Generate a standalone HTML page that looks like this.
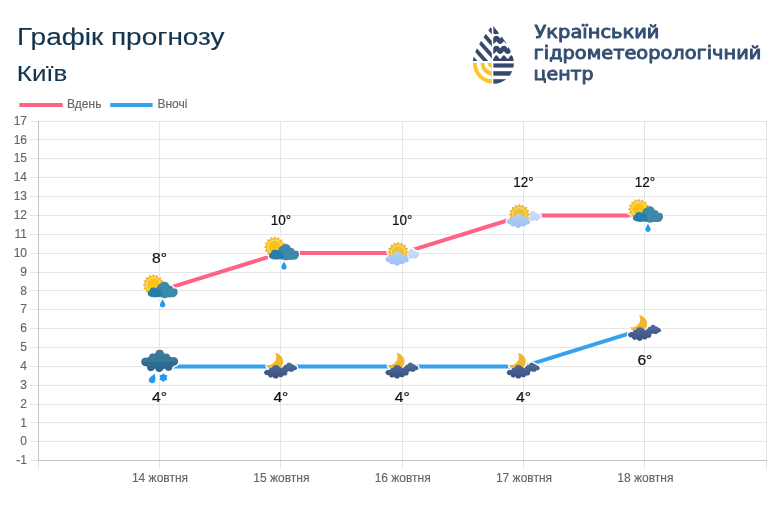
<!DOCTYPE html>
<html lang="uk"><head><meta charset="utf-8"><title>Графік прогнозу</title>
<style>
html,body{margin:0;padding:0;background:#fff;}
body{width:778px;height:519px;overflow:hidden;position:relative;font-family:"Liberation Sans",sans-serif;}
svg{position:absolute;left:0;top:0;display:block}
.tick{font:12px "Liberation Sans",sans-serif;fill:#666;stroke:#666;stroke-width:.15px}
.dl{font:14px "Liberation Sans",sans-serif;fill:#111;stroke:#111;stroke-width:.2px}
.h1{font:23.7px "Liberation Sans",sans-serif;fill:#12344f;stroke:#12344f;stroke-width:.15px}
.h2{font:21.8px "Liberation Sans",sans-serif;fill:#12344f;stroke:#12344f;stroke-width:.12px}
.lg{font:17.2px "DejaVu Sans","Liberation Sans",sans-serif;fill:#344e72;stroke:#344e72;stroke-width:.9px;stroke-linejoin:round}
</style></head><body>
<svg width="778" height="519" viewBox="0 0 778 519">
<defs>
<filter id="halo" x="-20%" y="-20%" width="140%" height="140%">
  <feMorphology in="SourceAlpha" operator="dilate" radius="1.3" result="d"/>
  <feFlood flood-color="#fff" result="w"/>
  <feComposite in="w" in2="d" operator="in" result="h"/>
  <feMerge><feMergeNode in="h"/><feMergeNode in="SourceGraphic"/></feMerge>
</filter>
<linearGradient id="gn1" gradientUnits="userSpaceOnUse" x1="0" y1="-2" x2="0" y2="12"><stop offset="0" stop-color="#506b9b"/><stop offset="0.5" stop-color="#435d8e"/><stop offset="1" stop-color="#38507f"/></linearGradient>
<linearGradient id="gn2" gradientUnits="userSpaceOnUse" x1="0" y1="-4" x2="0" y2="6"><stop offset="0" stop-color="#526d9c"/><stop offset="1" stop-color="#3f5888"/></linearGradient>
<linearGradient id="gd1" gradientUnits="userSpaceOnUse" x1="0" y1="-2" x2="0" y2="12"><stop offset="0" stop-color="#b3d0f9"/><stop offset="1" stop-color="#9dc1f5"/></linearGradient>
<linearGradient id="gd2" gradientUnits="userSpaceOnUse" x1="0" y1="-4" x2="0" y2="6"><stop offset="0" stop-color="#cbdffb"/><stop offset="1" stop-color="#b9d3f8"/></linearGradient>
<linearGradient id="grs" gradientUnits="userSpaceOnUse" x1="0" y1="-17" x2="0" y2="6"><stop offset="0" stop-color="#3a7c9d"/><stop offset="0.5" stop-color="#37789a"/><stop offset="0.56" stop-color="#2d6d91"/><stop offset="1" stop-color="#2a698d"/></linearGradient>
<clipPath id="dropclip"><path d="M492.5 25 C498 32 513.9 50 513.9 63.1 A20.5 20.6 0 0 1 472.9 63.1 C472.9 50 487 32 492.5 25 Z"/></clipPath>
<clipPath id="lt"><rect x="470" y="20" width="21.8" height="40.9"/></clipPath>
<clipPath id="lb"><rect x="470" y="63.1" width="21.8" height="25"/></clipPath>
<clipPath id="rt"><rect x="493.2" y="20" width="25" height="70"/></clipPath>

<g id="sun">
  <polygon fill="#f6b52e" points="0.00,-11.10 1.72,-8.63 4.25,-10.26 4.89,-7.32 7.85,-7.85 7.32,-4.89 10.26,-4.25 8.63,-1.72 11.10,0.00 8.63,1.72 10.26,4.25 7.32,4.89 7.85,7.85 4.89,7.32 4.25,10.26 1.72,8.63 0.00,11.10 -1.72,8.63 -4.25,10.26 -4.89,7.32 -7.85,7.85 -7.32,4.89 -10.26,4.25 -8.63,1.72 -11.10,0.00 -8.63,-1.72 -10.26,-4.25 -7.32,-4.89 -7.85,-7.85 -4.89,-7.32 -4.25,-10.26 -1.72,-8.63"/>
  <circle r="8.5" fill="#fcc318"/>
  <circle r="7" fill="none" stroke="#ffefb5" stroke-width="0.7"/>
</g>
<g id="sun2">
  <polygon fill="#f0b93a" points="0.00,-11.10 1.72,-8.63 4.25,-10.26 4.89,-7.32 7.85,-7.85 7.32,-4.89 10.26,-4.25 8.63,-1.72 11.10,0.00 8.63,1.72 10.26,4.25 7.32,4.89 7.85,7.85 4.89,7.32 4.25,10.26 1.72,8.63 0.00,11.10 -1.72,8.63 -4.25,10.26 -4.89,7.32 -7.85,7.85 -7.32,4.89 -10.26,4.25 -8.63,1.72 -11.10,0.00 -8.63,-1.72 -10.26,-4.25 -7.32,-4.89 -7.85,-7.85 -4.89,-7.32 -4.25,-10.26 -1.72,-8.63"/>
  <circle r="8.3" fill="#efc031"/>
  <circle r="6.9" fill="none" stroke="#fbe9a8" stroke-width="0.7"/>
</g>
<path id="rdrop" d="M0 -4.4 C1 -2.2 2.9 -0.2 2.9 1.6 A2.9 2.9 0 0 1 -2.9 1.6 C-2.9 -0.2 -1 -2.2 0 -4.4 Z"/>
<g id="cl-main">
  <circle cx="-5.3" cy="2.4" r="4"/><circle cx="-9.6" cy="4" r="2.8"/><circle cx="-1.6" cy="3.5" r="2.9"/>
  <ellipse cx="-5.7" cy="6" rx="11.6" ry="3.6"/>
  <circle cx="-10.5" cy="8.5" r="2.6"/><circle cx="-5.5" cy="9.3" r="3"/><circle cx="-0.5" cy="8.3" r="2.7"/><circle cx="3.4" cy="6.2" r="2.9"/><circle cx="1.8" cy="4.2" r="2.6"/><circle cx="-14" cy="6" r="2.8"/>
</g>
<g id="cl-small">
  <circle cx="8.9" cy="-1.7" r="2.9"/><circle cx="12" cy="-0.2" r="2.5"/>
  <ellipse cx="11.2" cy="1.3" rx="5.7" ry="3"/>
  <circle cx="8.4" cy="3" r="2.5"/><circle cx="12.6" cy="2.9" r="2.4"/><circle cx="14.6" cy="0.6" r="2.2"/>
</g>
<g id="cl-small-n">
  <circle cx="7.9" cy="-1.3" r="2.8"/><circle cx="10.8" cy="0" r="2.5"/><circle cx="4.8" cy="0.4" r="2.4"/>
  <ellipse cx="8.3" cy="1.6" rx="7.6" ry="3"/>
  <circle cx="5.6" cy="3" r="2.5"/><circle cx="10.2" cy="3" r="2.5"/><circle cx="13.4" cy="1.4" r="2.4"/>
</g>
</defs>
<text class="h1" x="17" y="45" textLength="207.6" lengthAdjust="spacingAndGlyphs">Графік прогнозу</text>
<text class="h2" x="16.8" y="80.7" textLength="50.5" lengthAdjust="spacingAndGlyphs">Київ</text>
<text class="lg" x="534.5" y="37.9" textLength="125" lengthAdjust="spacingAndGlyphs">Український</text>
<text class="lg" x="533.6" y="58.8" textLength="227.8" lengthAdjust="spacingAndGlyphs">гідрометеорологічний</text>
<text class="lg" x="533.6" y="79.5" textLength="60" lengthAdjust="spacingAndGlyphs">центр</text>
<g clip-path="url(#dropclip)">
<g clip-path="url(#lt)" fill="#34496c">
<polygon points="477.4,60.9 440.9,20 435.8,20 472.3,60.9"/>
<polygon points="488.2,60.9 451.7,20 446.6,20 483.1,60.9"/>
<polygon points="499.0,60.9 462.5,20 457.4,20 493.9,60.9"/>
<polygon points="509.8,60.9 473.3,20 468.2,20 504.7,60.9"/>
<polygon points="520.6,60.9 484.1,20 479.0,20 515.5,60.9"/>
</g>
<g clip-path="url(#lb)">
<rect x="470" y="63" width="22" height="22" fill="#fcc42e"/>
<ellipse cx="491.7" cy="63.1" rx="14.9" ry="16.1" fill="#fff"/>
<ellipse cx="491.7" cy="63.1" rx="11.0" ry="12.3" fill="#fcc42e"/>
<ellipse cx="491.7" cy="63.1" rx="7.3" ry="8.1" fill="#fff"/>
<ellipse cx="491.7" cy="63.1" rx="4.2" ry="4.5" fill="#fcc42e"/>
</g>
<g clip-path="url(#rt)" fill="#34496c">
<polygon points="493.2,25.2 499.6,33.4 496,34.2 493.2,33.8"/>
<path d="M492.0 41.34 L492.5 41.59 L493.0 41.52 L493.5 41.16 L494.0 40.57 L494.5 39.84 L495.0 39.10 L495.5 38.49 L496.0 38.10 L496.5 38.01 L497.0 38.22 L497.5 38.71 L498.0 39.39 L498.5 40.14 L499.0 40.83 L499.5 41.34 L500.0 41.59 L500.5 41.52 L501.0 41.16 L501.5 40.57 L502.0 39.84 L502.5 39.10 L503.0 38.49 L503.5 38.10 L504.0 38.01 L504.5 38.22 L505.0 38.71 L505.5 39.39 L506.0 40.14 L506.5 40.83 L507.0 41.34 L507.5 41.59 L508.0 41.52 L508.5 41.16 L509.0 40.57 L509.5 39.84 L510.0 39.10 L510.5 38.49 L511.0 38.10 L511.5 38.01 L512.0 38.22 L512.5 38.71 L513.0 39.39 L513.5 40.14 L514.0 40.83 L514.5 41.34 L515.0 41.59 L515.5 41.52 L516.0 41.16" fill="none" stroke="#34496c" stroke-width="4.5"/>
<path d="M492.0 51.34 L492.5 51.59 L493.0 51.52 L493.5 51.16 L494.0 50.57 L494.5 49.84 L495.0 49.10 L495.5 48.49 L496.0 48.10 L496.5 48.01 L497.0 48.22 L497.5 48.71 L498.0 49.39 L498.5 50.14 L499.0 50.83 L499.5 51.34 L500.0 51.59 L500.5 51.52 L501.0 51.16 L501.5 50.57 L502.0 49.84 L502.5 49.10 L503.0 48.49 L503.5 48.10 L504.0 48.01 L504.5 48.22 L505.0 48.71 L505.5 49.39 L506.0 50.14 L506.5 50.83 L507.0 51.34 L507.5 51.59 L508.0 51.52 L508.5 51.16 L509.0 50.57 L509.5 49.84 L510.0 49.10 L510.5 48.49 L511.0 48.10 L511.5 48.01 L512.0 48.22 L512.5 48.71 L513.0 49.39 L513.5 50.14 L514.0 50.83 L514.5 51.34 L515.0 51.59 L515.5 51.52 L516.0 51.16" fill="none" stroke="#34496c" stroke-width="4.5"/>
<path d="M492.0 58.54 L492.5 58.79 L493.0 58.72 L493.5 58.36 L494.0 57.77 L494.5 57.04 L495.0 56.30 L495.5 55.69 L496.0 55.30 L496.5 55.21 L497.0 55.42 L497.5 55.91 L498.0 56.59 L498.5 57.34 L499.0 58.03 L499.5 58.54 L500.0 58.79 L500.5 58.72 L501.0 58.36 L501.5 57.77 L502.0 57.04 L502.5 56.30 L503.0 55.69 L503.5 55.30 L504.0 55.21 L504.5 55.42 L505.0 55.91 L505.5 56.59 L506.0 57.34 L506.5 58.03 L507.0 58.54 L507.5 58.79 L508.0 58.72 L508.5 58.36 L509.0 57.77 L509.5 57.04 L510.0 56.30 L510.5 55.69 L511.0 55.30 L511.5 55.21 L512.0 55.42 L512.5 55.91 L513.0 56.59 L513.5 57.34 L514.0 58.03 L514.5 58.54 L515.0 58.79 L515.5 58.72 L516.0 58.36 L516 60.9 L492 60.9 Z"/>
<rect x="493.2" y="63.4" width="22" height="4.2"/>
<rect x="493.2" y="71.2" width="22" height="4.5"/>
<rect x="493.2" y="79.2" width="22" height="4.8"/>
</g>
</g>
<rect x="19.3" y="103" width="43.4" height="4" fill="#ff6384"/>
<text class="tick" x="67" y="108.1">Вдень</text>
<rect x="110.2" y="103" width="42.4" height="4" fill="#36a2eb"/>
<text class="tick" x="157.4" y="108.1">Вночі</text>
<g shape-rendering="crispEdges" stroke="#e5e5e5" stroke-width="1">
<line x1="30" x2="767" y1="460.5" y2="460.5"/>
<line x1="30" x2="767" y1="441.5" y2="441.5"/>
<line x1="30" x2="767" y1="422.5" y2="422.5"/>
<line x1="30" x2="767" y1="404.5" y2="404.5"/>
<line x1="30" x2="767" y1="385.5" y2="385.5"/>
<line x1="30" x2="767" y1="366.5" y2="366.5"/>
<line x1="30" x2="767" y1="347.5" y2="347.5"/>
<line x1="30" x2="767" y1="328.5" y2="328.5"/>
<line x1="30" x2="767" y1="309.5" y2="309.5"/>
<line x1="30" x2="767" y1="290.5" y2="290.5"/>
<line x1="30" x2="767" y1="272.5" y2="272.5"/>
<line x1="30" x2="767" y1="253.5" y2="253.5"/>
<line x1="30" x2="767" y1="234.5" y2="234.5"/>
<line x1="30" x2="767" y1="215.5" y2="215.5"/>
<line x1="30" x2="767" y1="196.5" y2="196.5"/>
<line x1="30" x2="767" y1="177.5" y2="177.5"/>
<line x1="30" x2="767" y1="158.5" y2="158.5"/>
<line x1="30" x2="767" y1="139.5" y2="139.5"/>
<line x1="30" x2="767" y1="121.5" y2="121.5"/>
<line x1="38.5" x2="38.5" y1="121" y2="469"/>
<line x1="159.5" x2="159.5" y1="121" y2="469"/>
<line x1="280.5" x2="280.5" y1="121" y2="469"/>
<line x1="402.5" x2="402.5" y1="121" y2="469"/>
<line x1="523.5" x2="523.5" y1="121" y2="469"/>
<line x1="644.5" x2="644.5" y1="121" y2="469"/>
<line x1="766.5" x2="766.5" y1="121" y2="469"/>
</g>
<g shape-rendering="crispEdges" stroke="#c4c4c4" stroke-width="1"><line x1="38.5" x2="38.5" y1="121" y2="461"/><line x1="38" x2="767" y1="460.5" y2="460.5"/></g>
<text class="tick" x="27" y="464.3" text-anchor="end">-1</text>
<text class="tick" x="27" y="445.4" text-anchor="end">0</text>
<text class="tick" x="27" y="426.6" text-anchor="end">1</text>
<text class="tick" x="27" y="407.7" text-anchor="end">2</text>
<text class="tick" x="27" y="388.8" text-anchor="end">3</text>
<text class="tick" x="27" y="370.0" text-anchor="end">4</text>
<text class="tick" x="27" y="351.1" text-anchor="end">5</text>
<text class="tick" x="27" y="332.2" text-anchor="end">6</text>
<text class="tick" x="27" y="313.3" text-anchor="end">7</text>
<text class="tick" x="27" y="294.5" text-anchor="end">8</text>
<text class="tick" x="27" y="275.6" text-anchor="end">9</text>
<text class="tick" x="27" y="256.7" text-anchor="end">10</text>
<text class="tick" x="27" y="237.9" text-anchor="end">11</text>
<text class="tick" x="27" y="219.0" text-anchor="end">12</text>
<text class="tick" x="27" y="200.1" text-anchor="end">13</text>
<text class="tick" x="27" y="181.3" text-anchor="end">14</text>
<text class="tick" x="27" y="162.4" text-anchor="end">15</text>
<text class="tick" x="27" y="143.5" text-anchor="end">16</text>
<text class="tick" x="27" y="124.6" text-anchor="end">17</text>
<text class="tick" x="160.0" y="481.7" text-anchor="middle">14 жовтня</text>
<text class="tick" x="281.4" y="481.7" text-anchor="middle">15 жовтня</text>
<text class="tick" x="402.7" y="481.7" text-anchor="middle">16 жовтня</text>
<text class="tick" x="524.0" y="481.7" text-anchor="middle">17 жовтня</text>
<text class="tick" x="645.4" y="481.7" text-anchor="middle">18 жовтня</text>
<polyline points="159.5,290.9 280.9,253.1 402.2,253.1 523.5,215.4 644.9,215.4" fill="none" stroke="#ff6384" stroke-width="4" stroke-linejoin="round"/>
<polyline points="159.5,366.4 280.9,366.4 402.2,366.4 523.5,366.4 644.9,328.6" fill="none" stroke="#36a2eb" stroke-width="4" stroke-linejoin="round"/>
<g transform="translate(159.83 291.07)" filter="url(#halo)">
<use href="#sun" x="-6.4" y="-6.3"/>
<g fill="#3d89a9"><circle cx="4.6" cy="-4.3" r="5.2"/><circle cx="1.6" cy="-3.2" r="4.3"/><circle cx="9.7" cy="-1.7" r="3.9"/><circle cx="14.5" cy="0.5" r="3.3"/><circle cx="-0.3" cy="-1" r="3.6"/><rect x="-3" y="-2" width="20" height="8.3" rx="4"/><circle cx="5" cy="3.6" r="3.6"/><circle cx="10" cy="3" r="3.4"/><circle cx="14.6" cy="1.5" r="3.2"/></g>
<g fill="#267fa9"><circle cx="-6.2" cy="0.4" r="3.9"/><circle cx="-2" cy="1" r="3.4"/><ellipse cx="-4.7" cy="2.8" rx="7.6" ry="3.6"/><circle cx="-9.2" cy="2" r="2.8"/></g>
<use href="#rdrop" x="2.9" y="12.6" fill="#1c9df2" transform="scale(0.96)"/>
</g>
<g transform="translate(281.17 253.33)" filter="url(#halo)">
<use href="#sun" x="-6.4" y="-6.3"/>
<g fill="#3d89a9"><circle cx="4.6" cy="-4.3" r="5.2"/><circle cx="1.6" cy="-3.2" r="4.3"/><circle cx="9.7" cy="-1.7" r="3.9"/><circle cx="14.5" cy="0.5" r="3.3"/><circle cx="-0.3" cy="-1" r="3.6"/><rect x="-3" y="-2" width="20" height="8.3" rx="4"/><circle cx="5" cy="3.6" r="3.6"/><circle cx="10" cy="3" r="3.4"/><circle cx="14.6" cy="1.5" r="3.2"/></g>
<g fill="#267fa9"><circle cx="-6.2" cy="0.4" r="3.9"/><circle cx="-2" cy="1" r="3.4"/><ellipse cx="-4.7" cy="2.8" rx="7.6" ry="3.6"/><circle cx="-9.2" cy="2" r="2.8"/></g>
<use href="#rdrop" x="2.9" y="12.6" fill="#1c9df2" transform="scale(0.96)"/>
</g>
<g transform="translate(402.50 253.33)" filter="url(#halo)">
<use href="#sun2" x="-4.4" y="-1"/>
<use href="#cl-small" fill="url(#gd2)"/>
<use href="#cl-main" fill="url(#gd1)"/>
</g>
<g transform="translate(523.83 215.59)" filter="url(#halo)">
<use href="#sun2" x="-4.4" y="-1"/>
<use href="#cl-small" fill="url(#gd2)"/>
<use href="#cl-main" fill="url(#gd1)"/>
</g>
<g transform="translate(645.17 215.59)" filter="url(#halo)">
<use href="#sun" x="-6.4" y="-6.3"/>
<g fill="#3d89a9"><circle cx="4.6" cy="-4.3" r="5.2"/><circle cx="1.6" cy="-3.2" r="4.3"/><circle cx="9.7" cy="-1.7" r="3.9"/><circle cx="14.5" cy="0.5" r="3.3"/><circle cx="-0.3" cy="-1" r="3.6"/><rect x="-3" y="-2" width="20" height="8.3" rx="4"/><circle cx="5" cy="3.6" r="3.6"/><circle cx="10" cy="3" r="3.4"/><circle cx="14.6" cy="1.5" r="3.2"/></g>
<g fill="#267fa9"><circle cx="-6.2" cy="0.4" r="3.9"/><circle cx="-2" cy="1" r="3.4"/><ellipse cx="-4.7" cy="2.8" rx="7.6" ry="3.6"/><circle cx="-9.2" cy="2" r="2.8"/></g>
<use href="#rdrop" x="2.9" y="12.6" fill="#1c9df2" transform="scale(0.96)"/>
</g>
<g transform="translate(159.83 366.55)" filter="url(#halo)">
<g fill="url(#grs)"><circle cx="-0.2" cy="-12.5" r="4.5"/><circle cx="-7" cy="-9.5" r="3.8"/><circle cx="6.6" cy="-9.5" r="3.6"/><circle cx="-14.4" cy="-4.7" r="4.4"/><circle cx="14" cy="-5.1" r="4.4"/><circle cx="-9" cy="1" r="3.8"/><circle cx="-0.6" cy="1.5" r="4.1"/><circle cx="8.7" cy="0.7" r="3.8"/><ellipse cx="0" cy="-4.4" rx="16.5" ry="7.2"/><ellipse cx="0" cy="-8.5" rx="10.5" ry="5"/></g>
<g transform="translate(-6.9 11.6) rotate(24)"><use href="#rdrop" fill="#1c9df2" transform="scale(1.18)"/></g>
<polygon fill="#1c9df2" transform="translate(3.5 11.1)" points="0.00,-4.70 1.70,-2.94 4.07,-2.35 3.40,0.00 4.07,2.35 1.70,2.94 0.00,4.70 -1.70,2.94 -4.07,2.35 -3.40,0.00 -4.07,-2.35 -1.70,-2.94"/>
</g>
<g transform="translate(281.17 366.55)" filter="url(#halo)">
<path fill="#efb92f" d="M-6.2 -13.9 A8.95 8.95 0 1 1 -15.2 -1.7 A8.3 8.3 0 0 0 -6.2 -13.9 Z"/>
<use href="#cl-small-n" fill="url(#gn2)"/>
<use href="#cl-main" fill="url(#gn1)"/>
</g>
<g transform="translate(402.50 366.55)" filter="url(#halo)">
<path fill="#efb92f" d="M-6.2 -13.9 A8.95 8.95 0 1 1 -15.2 -1.7 A8.3 8.3 0 0 0 -6.2 -13.9 Z"/>
<use href="#cl-small-n" fill="url(#gn2)"/>
<use href="#cl-main" fill="url(#gn1)"/>
</g>
<g transform="translate(523.83 366.55)" filter="url(#halo)">
<path fill="#efb92f" d="M-6.2 -13.9 A8.95 8.95 0 1 1 -15.2 -1.7 A8.3 8.3 0 0 0 -6.2 -13.9 Z"/>
<use href="#cl-small-n" fill="url(#gn2)"/>
<use href="#cl-main" fill="url(#gn1)"/>
</g>
<g transform="translate(645.17 328.81)" filter="url(#halo)">
<path fill="#efb92f" d="M-6.2 -13.9 A8.95 8.95 0 1 1 -15.2 -1.7 A8.3 8.3 0 0 0 -6.2 -13.9 Z"/>
<use href="#cl-small-n" fill="url(#gn2)"/>
<use href="#cl-main" fill="url(#gn1)"/>
</g>
<text class="dl" x="159.5" y="262.7" text-anchor="middle" textLength="15" lengthAdjust="spacingAndGlyphs">8°</text>
<text class="dl" x="280.9" y="224.9" text-anchor="middle" textLength="20.4" lengthAdjust="spacingAndGlyphs">10°</text>
<text class="dl" x="402.2" y="224.9" text-anchor="middle" textLength="20.4" lengthAdjust="spacingAndGlyphs">10°</text>
<text class="dl" x="523.5" y="187.2" text-anchor="middle" textLength="20.4" lengthAdjust="spacingAndGlyphs">12°</text>
<text class="dl" x="644.9" y="187.2" text-anchor="middle" textLength="20.4" lengthAdjust="spacingAndGlyphs">12°</text>
<text class="dl" x="159.5" y="402.4" text-anchor="middle" textLength="15" lengthAdjust="spacingAndGlyphs">4°</text>
<text class="dl" x="280.9" y="402.4" text-anchor="middle" textLength="15" lengthAdjust="spacingAndGlyphs">4°</text>
<text class="dl" x="402.2" y="402.4" text-anchor="middle" textLength="15" lengthAdjust="spacingAndGlyphs">4°</text>
<text class="dl" x="523.5" y="402.4" text-anchor="middle" textLength="15" lengthAdjust="spacingAndGlyphs">4°</text>
<text class="dl" x="644.9" y="364.6" text-anchor="middle" textLength="15" lengthAdjust="spacingAndGlyphs">6°</text>
</svg>
</body></html>
